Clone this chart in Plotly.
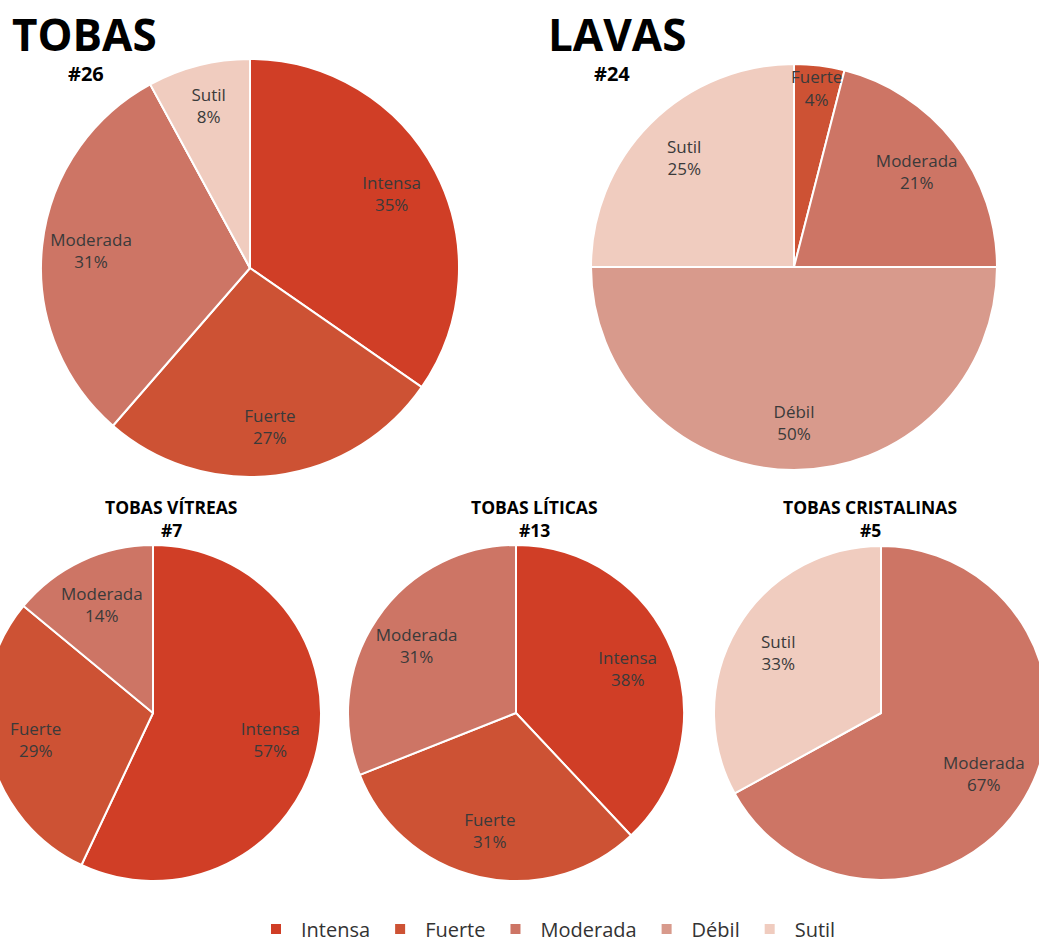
import plotly.graph_objects as go

# Intensity classes and their colours
categories = ["Intensa", "Fuerte", "Moderada", "Débil", "Sutil"]
category_colors = ["#d03e26", "#cd5234", "#cd7565", "#d89a8c", "#f0ccbf"]

# Percentage of samples per class in each rock group
tobas_labels = ["Intensa", "Fuerte", "Moderada", "Débil", "Sutil"]
tobas_values = [35, 27, 31, 0, 8]

lavas_labels = ["Fuerte", "Moderada", "Débil", "Sutil"]
lavas_values = [4, 21, 50, 25]

vitreas_labels = ["Intensa", "Fuerte", "Moderada"]
vitreas_values = [57, 29, 14]

liticas_labels = ["Intensa", "Fuerte", "Moderada"]
liticas_values = [38, 31, 31]

cristalinas_labels = ["Moderada", "Sutil"]
cristalinas_values = [67, 33]

group_titles = ["TOBAS", "LAVAS", "TOBAS VÍTREAS", "TOBAS LÍTICAS", "TOBAS CRISTALINAS"]
group_counts = ["#26", "#24", "#7", "#13", "#5"]

# ---- page geometry (pixels) ----
W, H = 1065, 944
SHIFT = 16          # the page is scrolled this far to the left


def px_domain(cx, cy, r):
    return dict(x=[(cx + SHIFT - r) / W, (cx + SHIFT + r) / W],
                y=[(H - cy - r) / H, (H - cy + r) / H])


def px_x(x):
    return (x + SHIFT) / W


def px_y(y):
    return (H - y) / H


color_of = dict(zip(categories, category_colors))

# (labels, values, centre x, centre y, radius, label-ring hole)
groups = [
    (tobas_labels, tobas_values, 250, 268, 209, 0.53),
    (lavas_labels, lavas_values, 794, 267, 203, 0.53),
    (vitreas_labels, vitreas_values, 153, 713, 168, 0.43),
    (liticas_labels, liticas_values, 516, 713, 168, 0.43),
    (cristalinas_labels, cristalinas_values, 881, 713, 167, 0.43),
]

TEXT_FONT = dict(family="Open Sans", size=17, color="#3a3a3a")

fig = go.Figure()
for labels, values, cx, cy, r, ring_hole in groups:
    dom = px_domain(cx, cy, r)
    # filled pie
    fig.add_trace(go.Pie(
        labels=labels, values=values, domain=dom,
        sort=False, direction="clockwise", rotation=0,
        marker=dict(colors=[color_of[l] for l in labels],
                    line=dict(color="white", width=2)),
        textinfo="none", hoverinfo="skip", showlegend=True,
    ))
    # transparent ring laid over the filled pie, keeps labels near the rim
    fig.add_trace(go.Pie(
        labels=labels, values=values, domain=dom, hole=ring_hole,
        sort=False, direction="clockwise", rotation=0,
        marker=dict(colors=["rgba(0,0,0,0)"] * len(labels),
                    line=dict(width=0)),
        texttemplate=["%{label}<br>%{value}%" if v else "" for v in values],
        textposition="inside", insidetextorientation="horizontal",
        textfont=TEXT_FONT, hoverinfo="skip", showlegend=False,
    ))

annotations = []
# main headings
for text, cnt, (tx, ty), (nx, ny) in [
    (group_titles[0], group_counts[0], (84, 34), (86, 73)),
    (group_titles[1], group_counts[1], (617, 34), (612, 73)),
]:
    annotations.append(dict(text=text, x=px_x(tx), y=px_y(ty), xref="paper", yref="paper",
                            xanchor="center", yanchor="middle", showarrow=False, height=40,
                            font=dict(family="Open Sans", size=44, color="black", weight="bold")))
    annotations.append(dict(text=cnt, x=px_x(nx), y=px_y(ny), xref="paper", yref="paper",
                            xanchor="center", yanchor="middle", showarrow=False, height=20,
                            font=dict(family="Open Sans", size=20, color="black", weight="bold")))

# sub-group headings
for text, cnt, xc in zip(group_titles[2:], group_counts[2:], [171, 534, 870]):
    annotations.append(dict(text=text, x=px_x(xc), y=px_y(507), xref="paper", yref="paper",
                            xanchor="center", yanchor="middle", showarrow=False,
                            font=dict(family="Open Sans", size=17.5, color="black", weight="bold")))
    annotations.append(dict(text=cnt, x=px_x(xc), y=px_y(530), xref="paper", yref="paper",
                            xanchor="center", yanchor="middle", showarrow=False,
                            font=dict(family="Open Sans", size=17.5, color="black", weight="bold")))

fig.update_layout(
    width=W, height=H,
    margin=dict(l=0, r=0, t=0, b=0, autoexpand=False),
    paper_bgcolor="white", plot_bgcolor="white",
    annotations=annotations,
    uniformtext=dict(minsize=17, mode="show"),
    legend=dict(orientation="h", xref="container", yref="container",
                x=px_x(546), xanchor="center",
                y=px_y(929), yanchor="middle",
                itemwidth=40,
                font=dict(family="Open Sans", size=20, color="#333333"),
                traceorder="normal"),
)

fig.write_html(
    "out.html",
    post_script=(
        "document.body.style.margin='0';"
        "document.body.style.overflow='hidden';"
        "var gd=document.getElementById('{plot_id}');"
        "gd.style.marginLeft='-" + str(SHIFT) + "px';"
    ),
)
